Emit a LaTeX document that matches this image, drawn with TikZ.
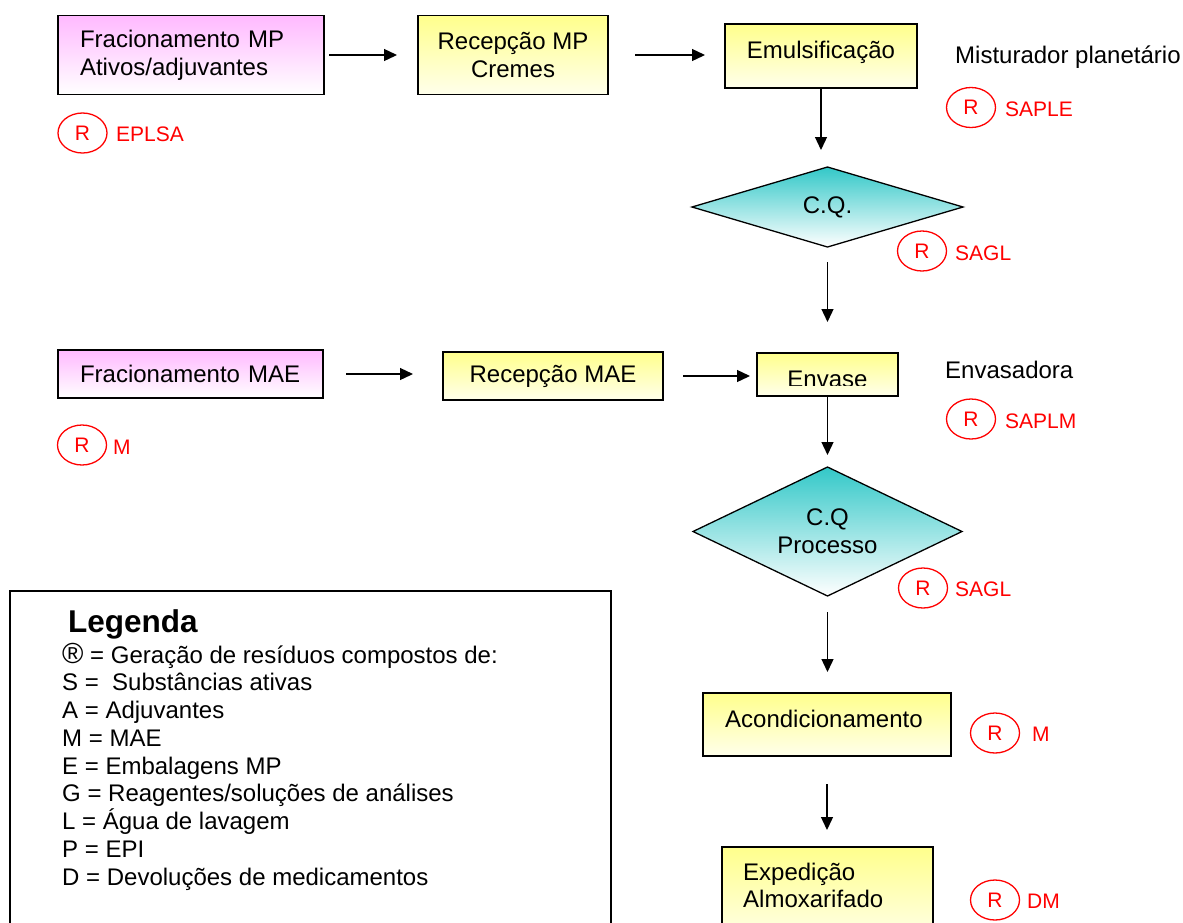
\documentclass[tikz,border=0pt]{standalone}
\usepackage{fontspec}
\setmainfont{Liberation Sans}
\usetikzlibrary{shapes.geometric,arrows.meta,calc}
\definecolor{pinktop}{RGB}{255,185,255}
\definecolor{yeltop}{RGB}{255,255,140}
\definecolor{yelbot}{RGB}{255,255,235}
\definecolor{tealtop}{RGB}{51,200,200}
\definecolor{rred}{RGB}{255,0,0}
\begin{document}
\begin{tikzpicture}[x=1pt,y=-1pt,
 boxbase/.style={draw=black, line width=1.3pt, rectangle, inner sep=0pt, outer sep=0pt, font=\fontsize{24}{28}\selectfont},
 pinkbox/.style={boxbase, top color=pinktop, bottom color=white},
 yelbox/.style={boxbase, top color=yeltop, bottom color=yelbot},
 cqbox/.style={draw=black, line width=1.3pt, diamond, inner sep=0pt, outer sep=0pt, top color=tealtop, bottom color=white, align=center, font=\fontsize{24}{28}\selectfont},
 arr/.style={line width=1.3pt, -{Triangle[length=13pt,width=12pt]}},
 rmark/.style={draw=rred, line width=1.3pt, ellipse, minimum width=49pt, minimum height=40pt, inner sep=0pt, text=rred, font=\fontsize{21}{24}\selectfont},
 rlab/.style={anchor=west, text=rred, inner sep=0pt, font=\fontsize{21}{24}\selectfont},
 plain/.style={inner sep=0pt, font=\fontsize{24}{28}\selectfont},
 legtxt/.style={anchor=base west, inner sep=0pt, font=\fontsize{24}{28}\selectfont}
]
\useasboundingbox (0,0) rectangle (1183,922);

% row 1
\node[pinkbox, minimum width=266pt, minimum height=79pt, text width=222pt, align=left] (fmp) at (191,55) {Fracionamento MP\\Ativos/adjuvantes};
\node[yelbox, minimum width=190pt, minimum height=79pt, align=center] (rmp) at (513,55) {Recepção MP\\Cremes};
\node[yelbox, minimum width=192pt, minimum height=64pt] (emul) at (821,56) {};
\node[plain, anchor=base] (emultxt) at (821,58) {Emulsificação};
\node[plain, anchor=west] (mist) at (955,57) {Misturador planetário};

\draw[arr, shorten <=5pt, shorten >=21pt] (fmp.east) -- (fmp.east -| rmp.west);
\draw[arr, shorten <=27pt, shorten >=20pt] (rmp.east) -- (rmp.east -| emul.west);

\node[cqbox, shape aspect=3.4, minimum width=271pt, minimum height=80pt] (cq1) at (827.5,207) {C.Q.};
\draw[arr, shorten >=17pt] (emul.south) -- (emul.south |- cq1.north);

% row 2
\node[pinkbox, minimum width=265pt, minimum height=48pt, text width=221pt, align=left] (fmae) at (190.5,374) {Fracionamento MAE};
\node[yelbox, minimum width=220pt, minimum height=48pt] (rmae) at (553,376) {Recepção MAE};
\node[yelbox, minimum width=141pt, minimum height=43pt] (env) at (827.5,374.5) {};
\begin{scope}
\clip (757,353) rectangle (898,385.5);
\node[plain, anchor=base] (envtxt) at (827.5,387.5) {Envase};
\end{scope}
\node[plain, anchor=west] (envas) at (945,370) {Envasadora};

\draw[arr, shorten <=23pt, shorten >=30pt] (fmae.east) -- (fmae.east -| rmae.west);
\draw[arr, shorten <=20pt, shorten >=7pt] (rmae.east) -- (rmae.east -| env.west);
\draw[arr, shorten <=15pt, shorten >=31pt] (cq1.south) -- (cq1.south |- env.north);

\node[cqbox, shape aspect=2.085, minimum width=269pt, minimum height=129pt] (cq2) at (827.5,531.5) {C.Q\\Processo};
\draw[arr, shorten >=12pt] (env.south) -- (env.south |- cq2.north);

\node[yelbox, minimum width=248pt, minimum height=63pt] (acd) at (827,724.5) {};
\node[plain, anchor=base west] (acdtxt) at (725,727) {Acondicionamento};
\draw[arr, shorten <=16pt, shorten >=21pt] (cq2.south) -- (cq2.south |- acd.north);

\node[yelbox, minimum width=211pt, minimum height=95pt] (exp) at (827.5,894.5) {};
\node[plain, anchor=base west] (exp1) at (743,880) {Expedição};
\node[plain, anchor=base west] (exp2) at (743,907) {Almoxarifado};
\draw[arr, shorten <=28pt, shorten >=17pt] (acd.south) -- (acd.south |- exp.north);

% R marks
\node[rmark] (r1) at (82.5,133) {R};   \node[rlab] (l1) at (116,134) {EPLSA};
\node[rmark] (r2) at (971,107.5) {R};  \node[rlab] (l2) at (1005,109) {SAPLE};
\node[rmark] (r3) at (922,251) {R};  \node[rlab] (l3) at (955,253) {SAGL};
\node[rmark] (r4) at (82,445) {R};   \node[rlab] (l4) at (113,447) {M};
\node[rmark] (r5) at (971,419) {R};  \node[rlab] (l5) at (1005,421) {SAPLM};
\node[rmark] (r6) at (923,588) {R};  \node[rlab] (l6) at (955,589) {SAGL};
\node[rmark] (r7) at (995,733) {R};  \node[rlab] (l7) at (1032,734) {M};
\node[rmark] (r8) at (995,900) {R};  \node[rlab] (l8) at (1027,901) {DM};

% legend
\node[draw=black, line width=1.3pt, rectangle, inner sep=0pt, minimum width=601pt, minimum height=350pt] (leg) at (310.5,766) {};
\node[anchor=base west, inner sep=0pt, font=\fontsize{31.5}{36}\selectfont\bfseries] (legt) at (68,632) {Legenda};
\node[legtxt] (lg1) at (62,663) {{\fontsize{29}{28}\selectfont ®} = Geração de resíduos compostos de:};
\node[legtxt] (lg2) at (62,690.75) {S =\ \ Substâncias ativas};
\node[legtxt] (lg3) at (62,718.5) {A = Adjuvantes};
\node[legtxt] (lg4) at (62,746.25) {M = MAE};
\node[legtxt] (lg5) at (62,774) {E = Embalagens MP};
\node[legtxt] (lg6) at (62,801.75) {G = Reagentes/soluções de análises};
\node[legtxt] (lg7) at (62,829.5) {L = Água de lavagem};
\node[legtxt] (lg8) at (62,857.25) {P = EPI};
\node[legtxt] (lg9) at (62,885) {D = Devoluções de medicamentos};
\end{tikzpicture}
\end{document}
